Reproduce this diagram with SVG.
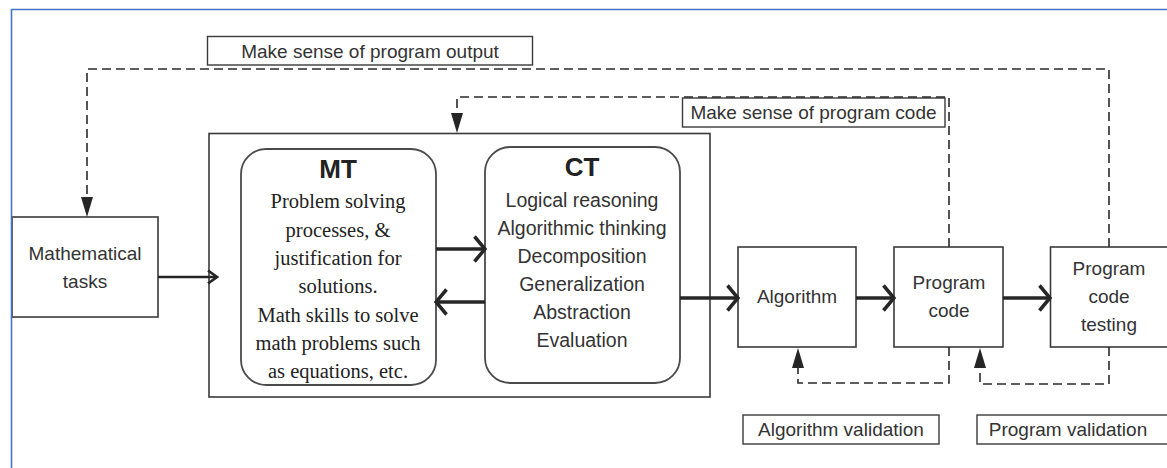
<svg xmlns="http://www.w3.org/2000/svg" width="1167" height="468" viewBox="0 0 1167 468">
<style>
  .bg { fill: #ffffff; }
  .box { fill: #ffffff; stroke: #3a3a3a; stroke-width: 1.6; }
  .cont { fill: none; stroke: #3a3a3a; stroke-width: 1.6; }
  .rbox { fill: #ffffff; stroke: #4a4a4a; stroke-width: 1.8; }
  .lab { fill: #ffffff; stroke: #3a3a3a; stroke-width: 1.4; }
  .t { font-family: "Liberation Sans", Arial, sans-serif; font-size: 19px; fill: #333333; text-anchor: middle; }
  .ts { font-family: "Liberation Serif", "Times New Roman", serif; font-size: 20.5px; fill: #222222; text-anchor: middle; }
  .tb { font-family: "Liberation Sans", Arial, sans-serif; font-weight: bold; font-size: 26px; fill: #222222; text-anchor: middle; }
  .dash { fill: none; stroke: #2a2a2a; stroke-width: 1.6; stroke-dasharray: 9 5; }
  .thick { fill: none; stroke: #262626; stroke-width: 3.5; }
  .thin { fill: none; stroke: #262626; stroke-width: 2.6; }
  .frame { fill: none; stroke: #4472c4; stroke-width: 1.6; }
</style>
<defs>
  <marker id="chev" markerUnits="userSpaceOnUse" viewBox="0 0 14 28" markerWidth="14" markerHeight="28" refX="12" refY="14" orient="auto">
    <path d="M1.5,1.5 L12,14 L1.5,26.5" fill="none" stroke="#262626" stroke-width="3.5"/>
  </marker>
  <marker id="chevs" markerUnits="userSpaceOnUse" viewBox="0 0 12 16" markerWidth="12" markerHeight="16" refX="10.5" refY="8" orient="auto">
    <path d="M1.5,1.5 L10.5,8 L1.5,14.5" fill="none" stroke="#262626" stroke-width="2.6"/>
  </marker>
  <marker id="tri" markerUnits="userSpaceOnUse" viewBox="0 0 20 12" markerWidth="20" markerHeight="12" refX="20" refY="6" orient="auto">
    <path d="M0,0 L20,6 L0,12 Z" fill="#262626"/>
  </marker>
</defs>
<rect class="bg" x="0" y="0" width="1167" height="468"/>

<g id="label-output">
  <rect class="lab" x="207.5" y="36.5" width="325" height="28.5"/>
  <text class="t" x="370" y="58">Make sense of program output</text>
</g>
<g id="label-code">
  <rect class="lab" x="682.5" y="98" width="262.5" height="29"/>
  <text class="t" x="813.5" y="119">Make sense of program code</text>
</g>

<g id="mathematical-tasks">
  <rect class="box" x="12" y="217" width="146" height="100"/>
  <text class="t" x="85" y="260">Mathematical</text>
  <text class="t" x="85" y="288">tasks</text>
</g>

<g id="mt-ct-container">
  <rect class="cont" x="209" y="133.5" width="501" height="263.5"/>
</g>

<g id="mt">
  <rect class="rbox" x="241" y="149" width="195" height="236" rx="25" ry="25"/>
  <text class="tb" x="338" y="178">MT</text>
  <text class="ts" x="338" y="208">Problem solving</text>
  <text class="ts" x="338" y="237">processes, &amp;</text>
  <text class="ts" x="338" y="265">justification for</text>
  <text class="ts" x="338" y="293">solutions.</text>
  <text class="ts" x="338" y="322">Math skills to solve</text>
  <text class="ts" x="338" y="350">math problems such</text>
  <text class="ts" x="338" y="378">as equations, etc.</text>
</g>

<g id="ct">
  <rect class="rbox" x="485" y="147" width="195" height="236" rx="25" ry="25"/>
  <text class="tb" x="582" y="176">CT</text>
  <text class="t" x="582" y="207" style="font-size:19.5px">Logical reasoning</text>
  <text class="t" x="582" y="235" style="font-size:19.5px">Algorithmic thinking</text>
  <text class="t" x="582" y="263" style="font-size:19.5px">Decomposition</text>
  <text class="t" x="582" y="291" style="font-size:19.5px">Generalization</text>
  <text class="t" x="582" y="319" style="font-size:19.5px">Abstraction</text>
  <text class="t" x="582" y="347" style="font-size:19.5px">Evaluation</text>
</g>

<g id="algorithm">
  <rect class="box" x="738" y="247" width="118" height="100"/>
  <text class="t" x="797" y="303">Algorithm</text>
</g>

<g id="program-code">
  <rect class="box" x="894" y="247" width="109" height="100"/>
  <text class="t" x="949" y="289">Program</text>
  <text class="t" x="949" y="317">code</text>
</g>

<g id="program-code-testing">
  <rect class="box" x="1050.5" y="247" width="125" height="100"/>
  <text class="t" x="1109" y="275">Program</text>
  <text class="t" x="1109" y="303">code</text>
  <text class="t" x="1109" y="331">testing</text>
</g>

<g id="label-algorithm-validation">
  <rect class="lab" x="743" y="415" width="196" height="29"/>
  <text class="t" x="841" y="436">Algorithm validation</text>
</g>
<g id="label-program-validation">
  <rect class="lab" x="977" y="415" width="200" height="29"/>
  <text class="t" x="1068" y="436">Program validation</text>
</g>

<g id="connectors">
  <!-- Make sense of program output loop -->
  <path class="dash" d="M1109,247 V69 H87 V197"/>
  <path d="M87,190 V217" fill="none" stroke="none" marker-end="url(#tri)"/>
  <!-- Make sense of program code loop -->
  <path class="dash" d="M949,247 V97 H457 V114"/>
  <path d="M457,105 V133" fill="none" stroke="none" marker-end="url(#tri)"/>
  <!-- Algorithm validation -->
  <path class="dash" d="M949,347 V383 H798 V368"/>
  <path d="M798,375 V348" fill="none" stroke="none" marker-end="url(#tri)"/>
  <!-- Program validation -->
  <path class="dash" d="M1109,347 V384 H980 V368"/>
  <path d="M980,375 V348" fill="none" stroke="none" marker-end="url(#tri)"/>
  <!-- solid arrows -->
  <path class="thin" d="M158,277 H217" marker-end="url(#chevs)"/>
  <path class="thick" d="M436,249 H485" marker-end="url(#chev)"/>
  <path class="thick" d="M485,302 H436" marker-end="url(#chev)"/>
  <path class="thick" d="M680,298 H738" marker-end="url(#chev)"/>
  <path class="thick" d="M856,298 H894" marker-end="url(#chev)"/>
  <path class="thick" d="M1003,298 H1050" marker-end="url(#chev)"/>
</g>

<g id="frame">
  <path class="frame" d="M11.5,468 V9.5 H1167"/>
</g>
</svg>
